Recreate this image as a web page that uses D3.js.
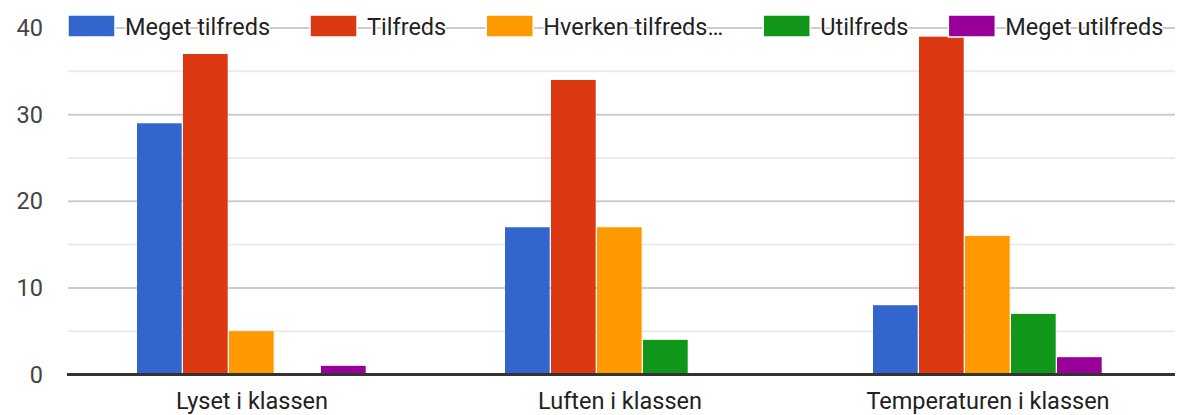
<!DOCTYPE html>
<html>
<head>
<meta charset="utf-8">
<script src="https://cdn.jsdelivr.net/npm/d3@7"></script>
<style>
  html, body { margin: 0; padding: 0; background: #fff; }
  svg { display: block; font-family: Roboto, Arial, sans-serif; }
</style>
</head>
<body>
<svg id="chart" width="1180" height="415"></svg>
<script>
// Survey answers per topic
const categories = ["Lyset i klassen", "Luften i klassen", "Temperaturen i klassen"];
const seriesNames = ["Meget tilfreds", "Tilfreds", "Hverken tilfreds…", "Utilfreds", "Meget utilfreds"];
const seriesColors = ["#3366cc", "#dc3912", "#ff9900", "#109618", "#990099"];
const meget_tilfreds = [29, 17, 8];
const tilfreds = [37, 34, 39];
const hverken = [5, 17, 16];
const utilfreds = [0, 4, 7];
const meget_utilfreds = [1, 0, 2];
const yTicks = [0, 10, 20, 30, 40];
const yMinorTicks = [5, 15, 25, 35];

const seriesValues = [meget_tilfreds, tilfreds, hverken, utilfreds, meget_utilfreds];
const FONT = 23.5;

const svg = d3.select("#chart");
const plot = { left: 68, right: 1172, top: 28, bottom: 374.5 };

const x0 = d3.scaleBand().domain(categories).range([plot.left, plot.right]).paddingInner(0.375).paddingOuter(0.1875);
const x1 = d3.scaleBand().domain(d3.range(seriesNames.length)).range([0, x0.bandwidth()]);
const y = d3.scaleLinear().domain([0, 40]).range([plot.bottom, plot.top]);

// gridlines
svg.append("g").selectAll("line").data(yMinorTicks).join("line")
  .attr("x1", plot.left).attr("x2", plot.right + 3)
  .attr("y1", d => y(d)).attr("y2", d => y(d))
  .attr("stroke", "#ebebeb").attr("stroke-width", 2);
svg.append("g").selectAll("line").data(yTicks.filter(d => d > 0)).join("line")
  .attr("x1", plot.left).attr("x2", plot.right + 3)
  .attr("y1", d => y(d)).attr("y2", d => y(d))
  .attr("stroke", "#cccccc").attr("stroke-width", 2);

// y labels
const yAxis = d3.axisLeft(y).tickValues(yTicks).tickSize(0).tickPadding(0);
const yg = svg.append("g").attr("transform", `translate(${plot.left - 25},0)`).call(yAxis);
yg.select(".domain").remove();
yg.selectAll("text").attr("font-size", FONT).attr("fill", "#444").attr("font-family", "Roboto, Arial, sans-serif");

// bars
const groups = svg.append("g").selectAll("g").data(categories).join("g")
  .attr("transform", d => `translate(${x0(d)},0)`);
groups.selectAll("rect")
  .data((c, ci) => seriesValues.map((vals, si) => ({ si, v: vals[ci] })).filter(d => d.v > 0))
  .join("rect")
  .attr("x", d => x1(d.si))
  .attr("width", x1.bandwidth() - 1.3)
  .attr("y", d => y(d.v))
  .attr("height", d => y(0) - y(d.v))
  .attr("fill", d => seriesColors[d.si]);

// baseline
svg.append("line")
  .attr("x1", plot.left - 1).attr("x2", plot.right + 3)
  .attr("y1", y(0)).attr("y2", y(0))
  .attr("stroke", "#333").attr("stroke-width", 3);

// x labels
const xAxis = d3.axisBottom(x0).tickSize(0).tickPadding(0);
const xg = svg.append("g").attr("transform", `translate(0,${y(0) + 18})`).call(xAxis);
xg.select(".domain").remove();
xg.selectAll("text").attr("font-size", FONT).attr("fill", "#222").attr("font-family", "Roboto, Arial, sans-serif");

// legend, laid over the top gridline
const legend = svg.append("g");
let lx = 68;
const ly = 26;
seriesNames.forEach((name, i) => {
  legend.append("rect")
    .attr("x", lx).attr("y", ly - 11).attr("width", 47).attr("height", 22)
    .attr("fill", seriesColors[i]).attr("stroke", "#fff").attr("stroke-width", 1.5);
  const t = legend.append("text")
    .attr("x", lx + 57).attr("y", ly + 8.5)
    .attr("font-size", FONT).attr("fill", "#222")
    .attr("stroke", "#fff").attr("stroke-width", 3).attr("paint-order", "stroke")
    .attr("stroke-linejoin", "round")
    .text(name);
  const w = t.node().getComputedTextLength();
  lx = lx + 57 + w + 40;
});
</script>
</body>
</html>
